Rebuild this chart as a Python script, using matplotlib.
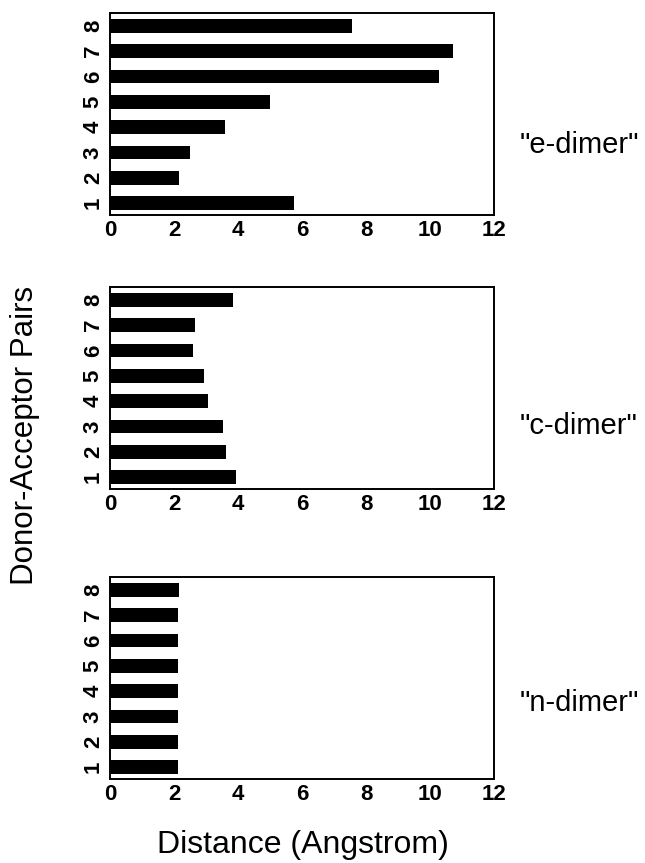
import matplotlib
matplotlib.use("Agg")
import matplotlib.pyplot as plt

pairs = [1, 2, 3, 4, 5, 6, 7, 8]
e_dimer = [5.74, 2.17, 2.51, 3.59, 5.01, 10.29, 10.71, 7.57]
c_dimer = [3.95, 3.63, 3.54, 3.05, 2.93, 2.59, 2.67, 3.85]
n_dimer = [2.11, 2.11, 2.13, 2.11, 2.11, 2.11, 2.11, 2.15]
panel_names = ['"e-dimer"', '"c-dimer"', '"n-dimer"']
x_ticks = [0, 2, 4, 6, 8, 10, 12]

plt.rcParams['font.family'] = ['Liberation Sans', 'DejaVu Sans']

fig = plt.figure(figsize=(6.45, 8.63), dpi=100)
W, H = 645.0, 863.0
left, right = 110, 494
panels = [(13, 215), (287, 489), (577, 779)]
label_y = [145, 426, 703]

for (top, bot), vals, name, ly in zip(panels, [e_dimer, c_dimer, n_dimer], panel_names, label_y):
    ax = fig.add_axes([left / W, 1 - bot / H, (right - left) / W, (bot - top) / H])
    ax.barh(pairs, vals, height=0.55, color='black')
    ax.set_xlim(0, 12)
    ax.set_ylim(0.53, 8.51)
    ax.set_xticks(x_ticks)
    ax.set_xticklabels([str(t) for t in x_ticks], fontsize=16, fontweight='bold')
    ax.set_yticks(pairs)
    ax.set_yticklabels([str(p) for p in pairs], fontsize=16, fontweight='bold',
                       rotation=90, va='center')
    ax.tick_params(axis='both', length=0)
    ax.tick_params(axis='x', pad=3.5)
    ax.tick_params(axis='y', pad=4.5)
    for s in ax.spines.values():
        s.set_linewidth(1.4)
    fig.text(520 / W, 1 - ly / H, name, fontsize=21, ha='left', va='center')

fig.text(25 / W, 1 - 435 / H, 'Donor-Acceptor Pairs', fontsize=22.5, rotation=90,
         ha='center', va='center')
fig.text(303 / W, 1 - 845 / H, 'Distance (Angstrom)', fontsize=23,
         ha='center', va='center')

fig.savefig('out.png', dpi=100)
